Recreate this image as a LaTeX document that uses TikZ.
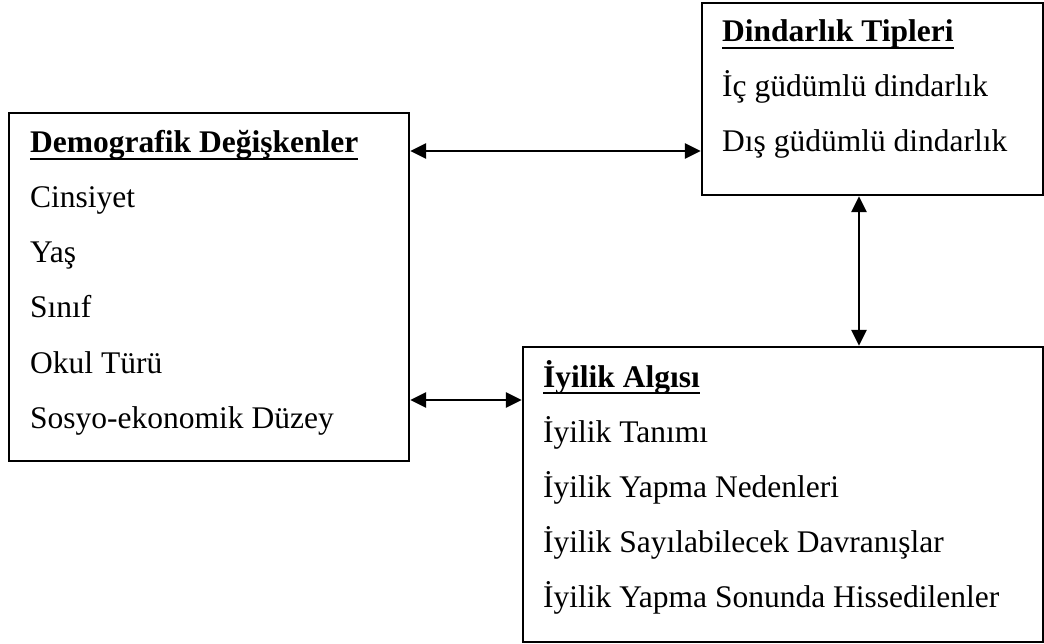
\documentclass[tikz,border=0pt]{standalone}
\usepackage{fontspec}
\setmainfont{Liberation Serif}
\usetikzlibrary{arrows.meta}
\begin{document}
\begin{tikzpicture}[x=1pt,y=-1pt,
  box/.style={draw=black,line width=2.4pt,rectangle,inner sep=0pt},
  txt/.style={anchor=base west,inner sep=0pt,font=\fontsize{31.5}{38}\selectfont},
  head/.style={txt,font=\fontsize{31.5}{38}\selectfont\bfseries},
  conn/.style={line width=2.6pt,{Triangle[length=16pt,width=15pt]}-{Triangle[length=16pt,width=15pt]}}]
\useasboundingbox (0,0) rectangle (1044,644);
% boxes
\node[box,minimum width=400pt,minimum height=348pt] (demo) at (209,287) {};
\node[box,minimum width=341pt,minimum height=192pt] (dind) at (872.5,99) {};
\node[box,minimum width=520pt,minimum height=295pt] (iyi) at (783,494.5) {};
% box 1 texts
\node[head] (h1) at (30,153) {Demografik Değişkenler};
\node[txt] (d1) at (30,208) {Cinsiyet};
\node[txt] (d2) at (30,263) {Yaş};
\node[txt] (d3) at (30,318) {Sınıf};
\node[txt] (d4) at (30,373) {Okul Türü};
\node[txt] (d5) at (30,428) {Sosyo-ekonomik Düzey};
% box 2 texts
\node[head] (h2) at (722,42) {Dindarlık Tipleri};
\node[txt] (t1) at (722,97) {İç güdümlü dindarlık};
\node[txt] (t2) at (722,152) {Dış güdümlü dindarlık};
% box 3 texts
\node[head] (h3) at (543,387) {İyilik Algısı};
\node[txt] (i1) at (543,442) {İyilik Tanımı};
\node[txt] (i2) at (543,497) {İyilik Yapma Nedenleri};
\node[txt] (i3) at (543,552) {İyilik Sayılabilecek Davranışlar};
\node[txt] (i4) at (543,607) {İyilik Yapma Sonunda Hissedilenler};
% underlines
\foreach \n in {h1,h2,h3}
  \draw[line width=2.4pt] ([yshift=-6pt]\n.base west) -- ([yshift=-6pt]\n.base east);
% connectors
\draw[conn] ([yshift=136pt]demo.east) -- ([yshift=-52pt]dind.west);
\draw[conn] ([yshift=-113pt]demo.east) -- ([yshift=94.5pt]iyi.west);
\draw[conn] ([xshift=-13.5pt]dind.south) -- ([xshift=76pt]iyi.north);
\end{tikzpicture}
\end{document}
